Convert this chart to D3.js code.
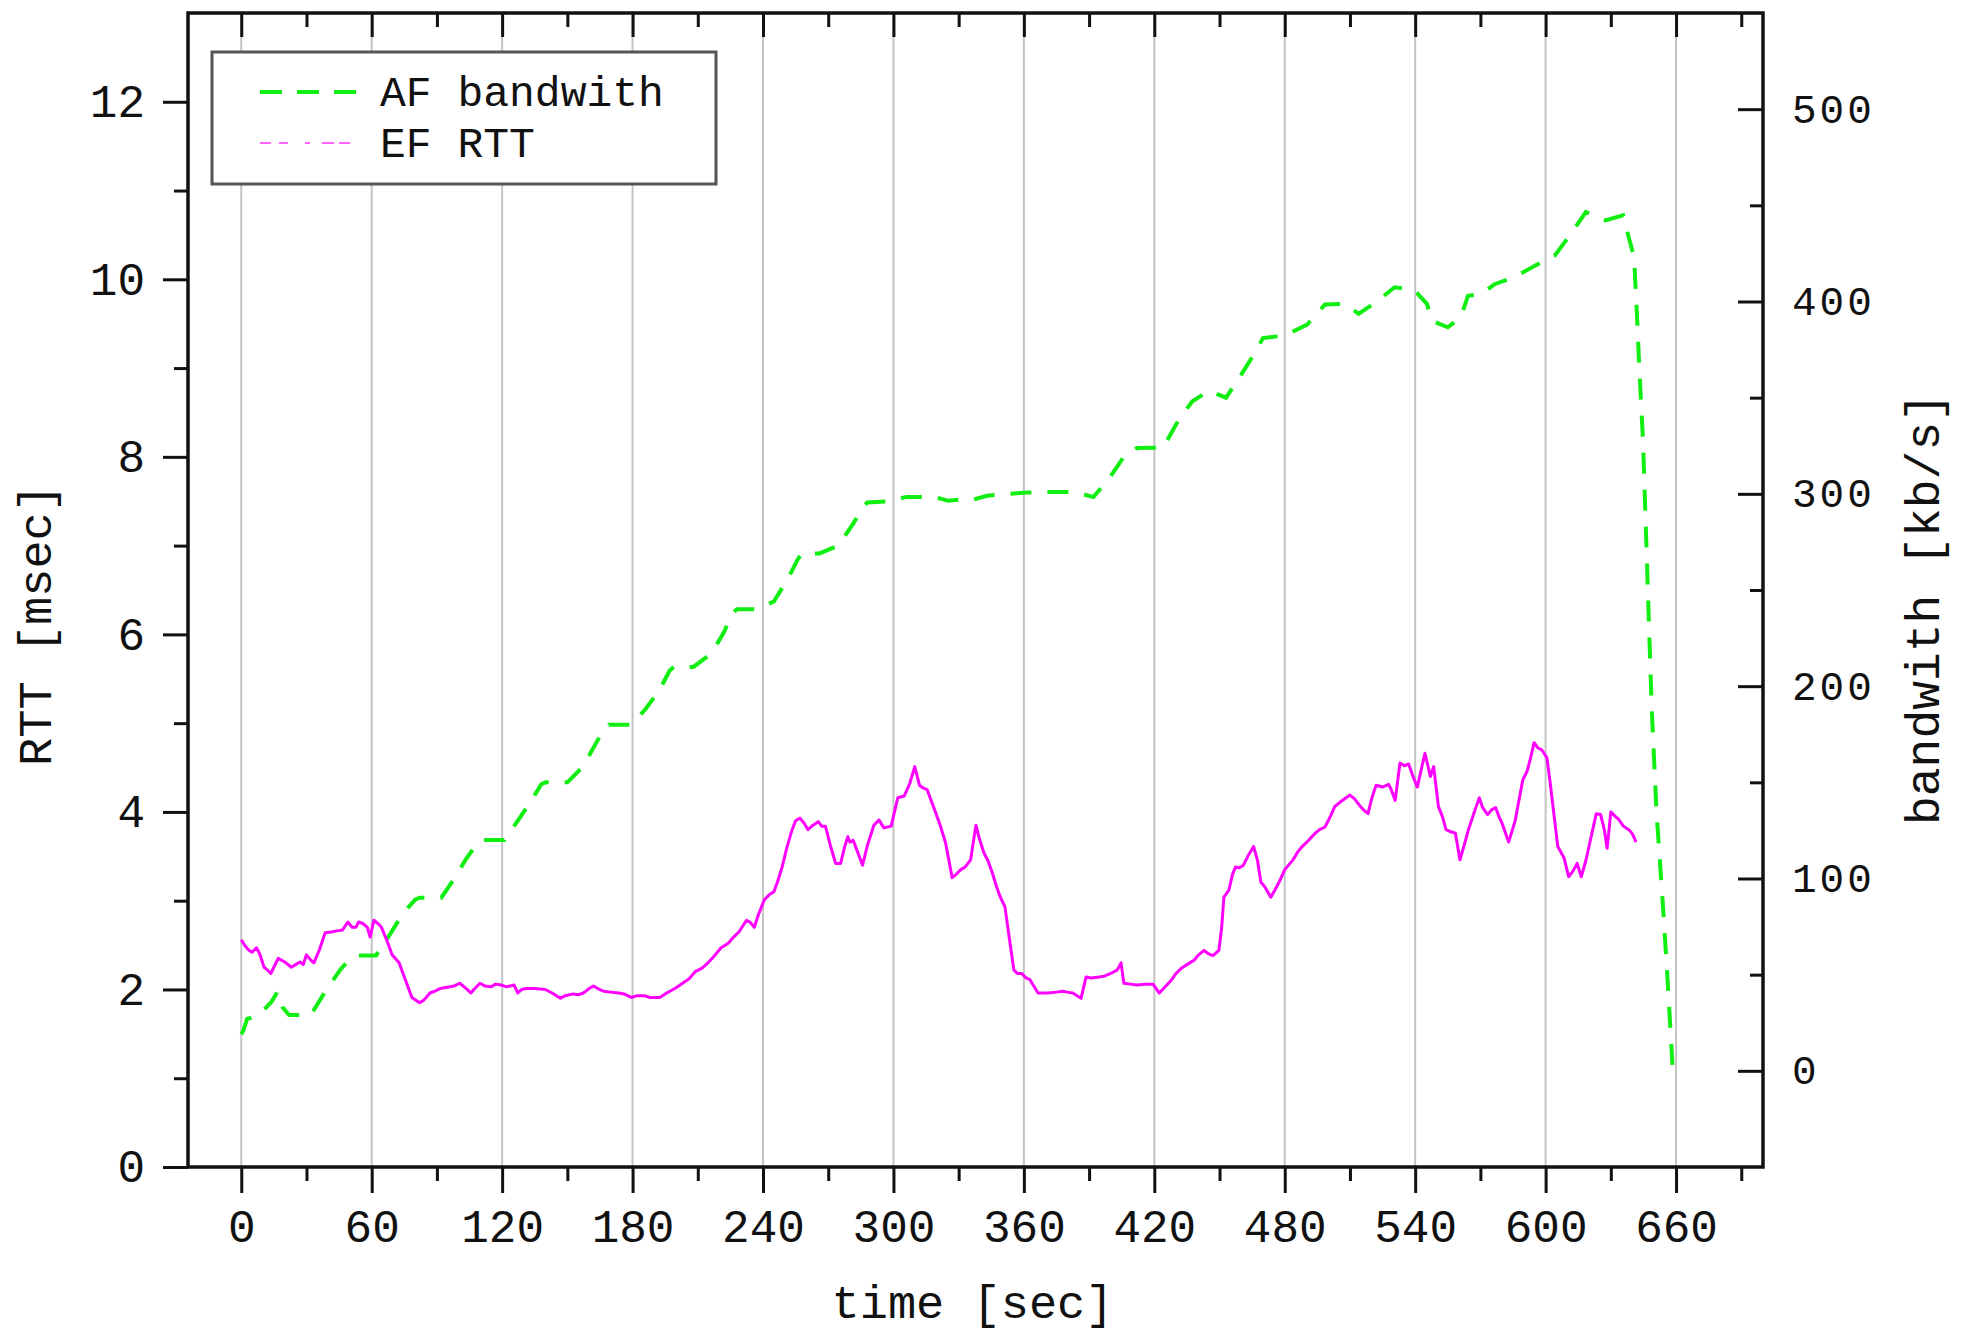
<!DOCTYPE html>
<html>
<head>
<meta charset="utf-8">
<script src="https://cdn.jsdelivr.net/npm/d3@7"></script>
<style>
  body { margin: 0; background: #fff; }
  text { font-family: "Liberation Mono", "DejaVu Sans Mono", monospace; fill: #111; }
</style>
</head>
<body>
<div id="app"></div>
<script>
// sizing
const width = 1968;
const height = 1336;
const plot = {left: 188, right: 1763, top: 13, bottom: 1167};

// AF bandwith (right axis, kb/s)
const afTime = [0, 1, 2.7, 6, 9, 14, 16.6, 19, 22, 32, 38.5, 45.8, 50, 53, 62, 68.4, 74.5, 80, 82, 92,
  98.6, 103.3, 109, 111.5, 121, 127.8, 133.7, 138, 140, 150, 157, 163, 167, 169, 179.5, 185.9, 192.4, 197, 199, 208,
  216.3, 222, 226, 228, 237, 245, 251.5, 256, 258, 266, 274.5, 281.2, 286, 288, 297, 306, 315, 320, 325, 330,
  335, 343, 353, 362, 372, 382, 388, 392, 399.5, 406.9, 412, 424, 425, 431, 437.4, 445, 453, 460, 466.4, 470,
  480, 490.3, 498.5, 507.5, 514, 523, 530.5, 539.5, 545.4, 547.7, 555, 561, 564.3, 570.8, 576.5, 585.5, 595.5, 604.3, 611.5, 618.5,
  627.5, 635.7, 638.2, 640.7, 642, 643, 644.8, 646.5, 648.8, 651, 654.2, 656.4, 658.5];
const afBandwith = [19, 21, 27, 28, 30, 36, 41, 33, 29, 29, 41, 53, 58, 60, 60, 71, 82, 89, 90, 90,
  101, 110, 119, 120, 120, 131, 141, 149, 150, 150, 158, 170, 178, 180, 180, 188, 198, 208, 210, 210,
  217, 228, 238, 240, 240, 244, 256, 266, 269, 269, 273, 284, 293, 295.5, 296, 298.4, 298.4, 298, 296.4, 297,
  296.4, 299, 300, 300.7, 301, 301, 299.5, 298.4, 308.5, 320.7, 323.8, 324, 326, 338, 348, 353.6, 350, 362, 373.6, 381,
  382.3, 388, 398.4, 398.8, 393.6, 400.5, 407.4, 406, 398.8, 390, 386.6, 391.8, 403, 404, 409, 412.6, 418.8, 424, 435, 446.5,
  442.2, 444.8, 433.5, 423, 393.6, 367.7, 327.6, 268.6, 188.7, 135, 82, 42, 0];

// EF RTT (left axis, msec)
const efTime = [0, 1.5, 3.5, 5, 7, 8.5, 10.5, 12, 13.6, 15, 17, 20, 23, 25, 27, 28.5, 30, 32, 33.4, 36,
  38.6, 42, 44, 46.6, 49, 51, 52.7, 54, 56.2, 58, 59.3, 61, 63, 64.5, 67, 69.4, 72.6, 75, 78.5, 82,
  84, 86.8, 89, 91.4, 96, 98, 100.5, 103, 105.6, 107, 109.8, 112, 115, 117, 119.6, 122, 125.5, 127.2, 129, 131,
  135, 139.8, 143, 146.8, 149, 152.7, 155, 157.4, 160, 162, 164, 166.6, 170, 173.7, 176, 179.5, 182, 185.4, 188, 192.5,
  195, 197.2, 200, 203, 206, 208.8, 212, 214.7, 217, 220.7, 224, 226.5, 229, 232.4, 234, 236, 238, 240.6, 243, 245,
  246.5, 248.8, 251, 253.4, 255, 257, 259, 260.7, 263, 265.4, 267, 268.7, 271, 273.4, 275.7, 277.5, 279, 280, 281.5, 283.5,
  285.8, 288, 291, 293.3, 295.6, 299, 300, 302, 305, 307.5, 309.8, 312, 313.6, 315.5, 319, 321.5, 324, 327, 329, 331,
  333, 335.5, 337, 338, 339.5, 341.6, 343.5, 345.4, 347.4, 349, 351.3, 353, 355.4, 357, 359, 361, 362.8, 366.5, 371, 375,
  378, 380, 382.5, 386.3, 388.6, 391, 394.5, 397, 400, 403, 404.7, 406, 409, 412, 416, 419.4, 422.3, 425, 428, 430,
  432.5, 435, 438.3, 440, 442.9, 445, 447, 449.7, 451, 452, 454.3, 456, 457.4, 459, 461, 463, 465.7, 467.5, 469, 471,
  473.6, 475.5, 477.8, 480, 483.8, 486, 488, 491, 494, 496, 498.5, 501, 503, 506, 510, 512, 514.5, 516, 518.3, 520,
  522, 525, 527.8, 529, 530.8, 533, 535, 537, 539, 541, 543, 544.5, 547, 548.5, 550.7, 552.5, 554.2, 556, 558.5, 560.6,
  562.5, 564.5, 567.5, 569.5, 571, 573.3, 575, 577, 578.5, 580, 583, 586, 587.5, 589.5, 591.5, 593, 594.7, 596.5, 598.2, 600.6,
  602, 603.4, 605.6, 608.5, 610.6, 612.5, 614.5, 616.4, 618.5, 620.3, 623.3, 625.3, 627, 628.3, 630, 632, 633.5, 635.8, 638.7, 640,
  641.6];
const efRtt = [2.56, 2.50, 2.44, 2.42, 2.47, 2.40, 2.25, 2.22, 2.18, 2.25, 2.35, 2.31, 2.25, 2.28, 2.31, 2.28, 2.39, 2.33, 2.30, 2.45,
  2.64, 2.65, 2.66, 2.67, 2.76, 2.70, 2.70, 2.76, 2.74, 2.70, 2.59, 2.78, 2.74, 2.70, 2.55, 2.39, 2.30, 2.14, 1.91, 1.85,
  1.88, 1.96, 1.98, 2.01, 2.03, 2.04, 2.07, 2.02, 1.96, 2.00, 2.07, 2.04, 2.03, 2.06, 2.05, 2.03, 2.05, 1.96, 2.00, 2.01,
  2.01, 2.00, 1.96, 1.90, 1.93, 1.95, 1.94, 1.96, 2.01, 2.04, 2.01, 1.98, 1.97, 1.96, 1.95, 1.91, 1.93, 1.93, 1.91, 1.91,
  1.95, 1.98, 2.02, 2.07, 2.12, 2.20, 2.24, 2.30, 2.36, 2.47, 2.52, 2.59, 2.65, 2.78, 2.76, 2.70, 2.85, 3.01, 3.07, 3.10,
  3.20, 3.38, 3.60, 3.80, 3.90, 3.93, 3.87, 3.80, 3.85, 3.89, 3.84, 3.84, 3.62, 3.42, 3.42, 3.60, 3.72, 3.66, 3.68, 3.55,
  3.40, 3.62, 3.85, 3.91, 3.82, 3.84, 3.95, 4.16, 4.18, 4.32, 4.51, 4.30, 4.27, 4.25, 4.02, 3.85, 3.65, 3.26, 3.30, 3.35,
  3.38, 3.46, 3.70, 3.85, 3.70, 3.54, 3.45, 3.32, 3.16, 3.05, 2.93, 2.63, 2.22, 2.18, 2.18, 2.13, 2.11, 1.96, 1.96, 1.97,
  1.98, 1.97, 1.96, 1.90, 2.14, 2.13, 2.14, 2.15, 2.18, 2.22, 2.30, 2.07, 2.06, 2.05, 2.06, 2.06, 1.96, 2.03, 2.11, 2.18,
  2.24, 2.28, 2.33, 2.38, 2.44, 2.40, 2.38, 2.44, 2.70, 3.04, 3.12, 3.30, 3.38, 3.37, 3.40, 3.50, 3.61, 3.45, 3.21, 3.15,
  3.04, 3.12, 3.23, 3.35, 3.46, 3.55, 3.61, 3.68, 3.76, 3.80, 3.83, 3.95, 4.06, 4.12, 4.19, 4.15, 4.07, 4.03, 3.98, 4.15,
  4.30, 4.28, 4.31, 4.25, 4.13, 4.55, 4.52, 4.54, 4.40, 4.28, 4.50, 4.66, 4.40, 4.51, 4.06, 3.95, 3.80, 3.78, 3.76, 3.46,
  3.62, 3.80, 4.02, 4.16, 4.05, 3.97, 4.02, 4.05, 3.95, 3.87, 3.66, 3.90, 4.10, 4.36, 4.46, 4.60, 4.78, 4.72, 4.70, 4.61,
  4.35, 4.06, 3.61, 3.48, 3.27, 3.33, 3.42, 3.27, 3.45, 3.65, 3.98, 3.97, 3.80, 3.59, 4.00, 3.95, 3.92, 3.84, 3.79, 3.75,
  3.66];

// ticks
const xMajor = d3.range(0, 661, 60);
const xMinor = d3.range(30, 691, 60);
const rttMajor = d3.range(0, 13, 2);
const rttMinor = d3.range(1, 12, 2);
const bwMajor = d3.range(0, 501, 100);
const bwMinor = d3.range(50, 451, 100);

const svg = d3.select("#app")
  .append("svg")
    .attr("width", width)
    .attr("height", height);

// scales
const x = d3.scaleLinear().domain([-24.5, 700]).range([plot.left, plot.right]);
const yL = d3.scaleLinear().domain([0, 13]).range([plot.bottom, plot.top]);
const yR = d3.scaleLinear().domain([-50, 550]).range([plot.bottom, plot.top]);

// vertical grid
svg.append("g")
  .selectAll("line")
  .data(xMajor)
  .enter().append("line")
    .attr("x1", d => x(d)).attr("x2", d => x(d))
    .attr("y1", plot.top).attr("y2", plot.bottom)
    .attr("stroke", "#c4c4c4")
    .attr("stroke-width", 2);

// lines
const afLine = d3.line().x((d, i) => x(afTime[i])).y(d => yR(d));
svg.append("path")
  .attr("d", afLine(afBandwith))
  .attr("fill", "none")
  .attr("stroke", "#11ee11")
  .attr("stroke-width", 4)
  .attr("stroke-dasharray", "21,16");

const efLine = d3.line().x((d, i) => x(efTime[i])).y(d => yL(d));
svg.append("path")
  .attr("d", efLine(efRtt))
  .attr("fill", "none")
  .attr("stroke", "#ff00ff")
  .attr("stroke-width", 3)
  .attr("stroke-linejoin", "round");

// axes
function styleAxis(g, fontSize) {
  g.select(".domain").remove();
  g.selectAll(".tick line").attr("stroke", "#111").attr("stroke-width", 3);
  g.selectAll(".tick text").style("font-size", fontSize + "px").attr("fill", "#111");
}

svg.append("g")
  .attr("transform", `translate(0,${plot.bottom})`)
  .call(d3.axisBottom(x).tickValues(xMajor).tickSize(26).tickPadding(16).tickFormat(d3.format("d")))
  .call(g => styleAxis(g, 46));
svg.append("g")
  .attr("transform", `translate(0,${plot.bottom})`)
  .call(d3.axisBottom(x).tickValues(xMinor).tickSize(14).tickFormat(""))
  .call(g => styleAxis(g, 10));

svg.append("g")
  .attr("transform", `translate(0,${plot.top})`)
  .call(d3.axisTop(x).tickValues(xMajor).tickSizeInner(-24).tickSizeOuter(0).tickFormat(""))
  .call(g => styleAxis(g, 10));
svg.append("g")
  .attr("transform", `translate(0,${plot.top})`)
  .call(d3.axisTop(x).tickValues(xMinor).tickSizeInner(-14).tickSizeOuter(0).tickFormat(""))
  .call(g => styleAxis(g, 10));

svg.append("g")
  .attr("transform", `translate(${plot.left},0)`)
  .call(d3.axisLeft(yL).tickValues(rttMajor).tickSize(25).tickPadding(18).tickFormat(d3.format("d")))
  .call(g => styleAxis(g, 46));
svg.append("g")
  .attr("transform", `translate(${plot.left},0)`)
  .call(d3.axisLeft(yL).tickValues(rttMinor).tickSize(14).tickFormat(""))
  .call(g => styleAxis(g, 10));

svg.append("g")
  .attr("transform", `translate(${plot.right},0)`)
  .call(d3.axisRight(yR).tickValues(bwMajor).tickSizeInner(-25).tickSizeOuter(0).tickPadding(29).tickFormat(d3.format("d")))
  .call(g => styleAxis(g, 41))
  .call(g => g.selectAll(".tick text").style("letter-spacing", "3px"));
svg.append("g")
  .attr("transform", `translate(${plot.right},0)`)
  .call(d3.axisRight(yR).tickValues(bwMinor).tickSizeInner(-13).tickSizeOuter(0).tickFormat(""))
  .call(g => styleAxis(g, 10));

// frame
svg.append("rect")
  .attr("x", plot.left).attr("y", plot.top)
  .attr("width", plot.right - plot.left)
  .attr("height", plot.bottom - plot.top)
  .attr("fill", "none")
  .attr("stroke", "#111")
  .attr("stroke-width", 3.5);

// axis titles
svg.append("text")
  .attr("x", (plot.left + plot.right) / 2 - 3)
  .attr("y", 1318)
  .attr("text-anchor", "middle")
  .style("font-size", "47px")
  .text("time [sec]");

svg.append("text")
  .attr("transform", "translate(51,625) rotate(-90)")
  .attr("text-anchor", "middle")
  .style("font-size", "47px")
  .text("RTT [msec]");

svg.append("text")
  .attr("transform", "translate(1939,609) rotate(-90)")
  .attr("text-anchor", "middle")
  .style("font-size", "48px")
  .text("bandwith [kb/s]");

// legend
const legend = svg.append("g");
legend.append("rect")
  .attr("x", 212).attr("y", 52)
  .attr("width", 504).attr("height", 132)
  .attr("fill", "#fff")
  .attr("stroke", "#555")
  .attr("stroke-width", 3);
legend.append("line")
  .attr("x1", 260).attr("x2", 357).attr("y1", 92).attr("y2", 92)
  .attr("stroke", "#11ee11").attr("stroke-width", 4)
  .attr("stroke-dasharray", "22,15");
legend.append("line")
  .attr("x1", 260).attr("x2", 350).attr("y1", 143).attr("y2", 143)
  .attr("stroke", "#ff66ff").attr("stroke-width", 2)
  .attr("stroke-dasharray", "11,8,9,17,5,12,12,5,11");
legend.append("text")
  .attr("x", 380).attr("y", 106)
  .style("font-size", "43px")
  .text("AF bandwith");
legend.append("text")
  .attr("x", 380).attr("y", 157)
  .style("font-size", "43px")
  .text("EF RTT");
</script>
</body>
</html>
